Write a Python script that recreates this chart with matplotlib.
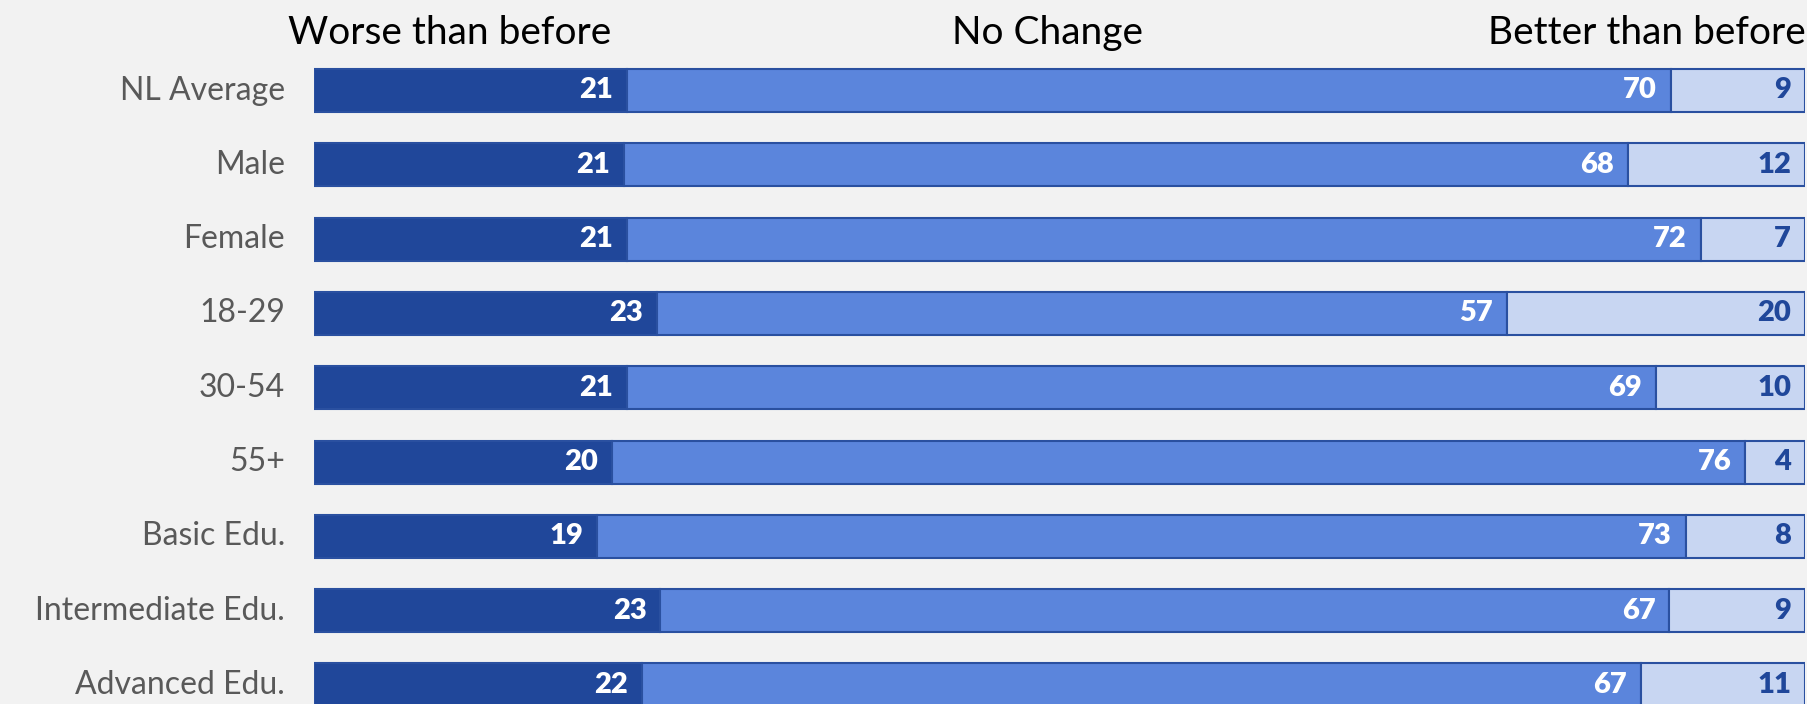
import matplotlib
matplotlib.use("Agg")
import matplotlib.pyplot as plt
import numpy as np

categories = ["NL Average", "Male", "Female", "18-29", "30-54", "55+",
              "Basic Edu.", "Intermediate Edu.", "Advanced Edu."]
worse = [21, 21, 21, 23, 21, 20, 19, 23, 22]
no_change = [70, 68, 72, 57, 69, 76, 73, 67, 67]
better = [9, 12, 7, 20, 10, 4, 8, 9, 11]
series_names = ["Worse than before", "No Change", "Better than before"]

BG = "#F2F2F2"
DARK = "#20479A"
MID = "#5B85DC"
LIGHT = "#C8D6F2"
EDGE = "#2A50A0"

plt.rcParams['font.family'] = ['Lato', 'DejaVu Sans']

W, H = 1808, 704
fig = plt.figure(figsize=(W / 100, H / 100), dpi=100, facecolor=BG)

left_px, right_px = 314, 1805
row0_px, step_px = 90.5, 74.3
ax = fig.add_axes([left_px / W, 0, (right_px - left_px) / W, 1])
ax.set_facecolor(BG)
ax.patch.set_alpha(0)
ytop = -row0_px / step_px
ybot = (H - row0_px) / step_px
ax.set_ylim(ybot, ytop)
ax.set_xlim(0, 100)
ax.axis("off")

vals = np.array([worse, no_change, better], dtype=float)
totals = vals.sum(axis=0)
norm = vals / totals * 100
y = np.arange(len(categories))
bar_h = 43 / step_px

colors = [DARK, MID, LIGHT]
txt_colors = ["white", "white", DARK]
starts = np.zeros(len(categories))
for k in range(3):
    ax.barh(y, norm[k], left=starts, height=bar_h, color=colors[k],
            edgecolor=EDGE, linewidth=1.5)
    for i in range(len(categories)):
        ax.annotate(str(int(vals[k][i])), xy=(starts[i] + norm[k][i], y[i]),
                    xytext=(-10, 0), textcoords="offset points",
                    ha="right", va="center", color=txt_colors[k],
                    fontsize=21, fontweight="heavy")
    starts = starts + norm[k]

for i, c in enumerate(categories):
    ax.annotate(c, xy=(0, y[i]), xytext=(-21, 0), textcoords="offset points",
                ha="right", va="center", color="#595959", fontsize=23,
                fontweight="normal", annotation_clip=False)

hy = 1 - 33 / H
fig.text(288 / W, hy, series_names[0], ha="left", va="center",
         fontsize=28, color="black")
fig.text(1048 / W, hy, series_names[1], ha="center", va="center",
         fontsize=28, color="black")
fig.text(1806 / W, hy, series_names[2], ha="right", va="center",
         fontsize=28, color="black")

fig.savefig("out.png", dpi=100, facecolor=BG)
